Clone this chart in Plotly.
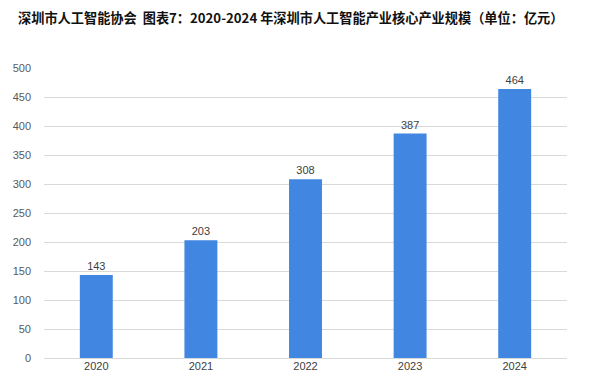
import plotly.graph_objects as go

years = ["2020", "2021", "2022", "2023", "2024"]
values = [143, 203, 308, 387, 464]
title_text = "深圳市人工智能协会  图表7：2020-2024 年深圳市人工智能产业核心产业规模（单位：亿元）"

fig = go.Figure(go.Bar(
    x=years, y=values,
    marker=dict(color="#4186E0", line=dict(width=0)),
    text=[str(v) for v in values],
    textposition="outside",
    textfont=dict(size=11, color="#404040", family="Liberation Sans, Arial"),
    cliponaxis=False,
))

fig.update_layout(
    width=590, height=391,
    margin=dict(l=36, r=31, t=60, b=41, autoexpand=False),
    paper_bgcolor="white", plot_bgcolor="white",
    bargap=0.685,
    showlegend=False,
    title=dict(text="<b>" + title_text + "</b>", x=0.017, xanchor="left", y=0.973, yanchor="middle",
               font=dict(size=13.2, color="#111111", family="Noto Sans CJK SC")),
    xaxis=dict(showgrid=False, showline=False, ticks="", automargin=False,
               tickfont=dict(size=11, color="#404040", family="Liberation Sans, Arial")),
    yaxis=dict(range=[0, 500], dtick=50, showgrid=True, gridcolor="#D9D9D9", gridwidth=1,
               zeroline=True, zerolinecolor="#D9D9D9", zerolinewidth=1, automargin=False,
               showline=False, ticks="", ticklabelstandoff=12,
               tickfont=dict(size=11, color="#595959", family="Liberation Sans, Arial")),
)

fig.write_html("out.html")
